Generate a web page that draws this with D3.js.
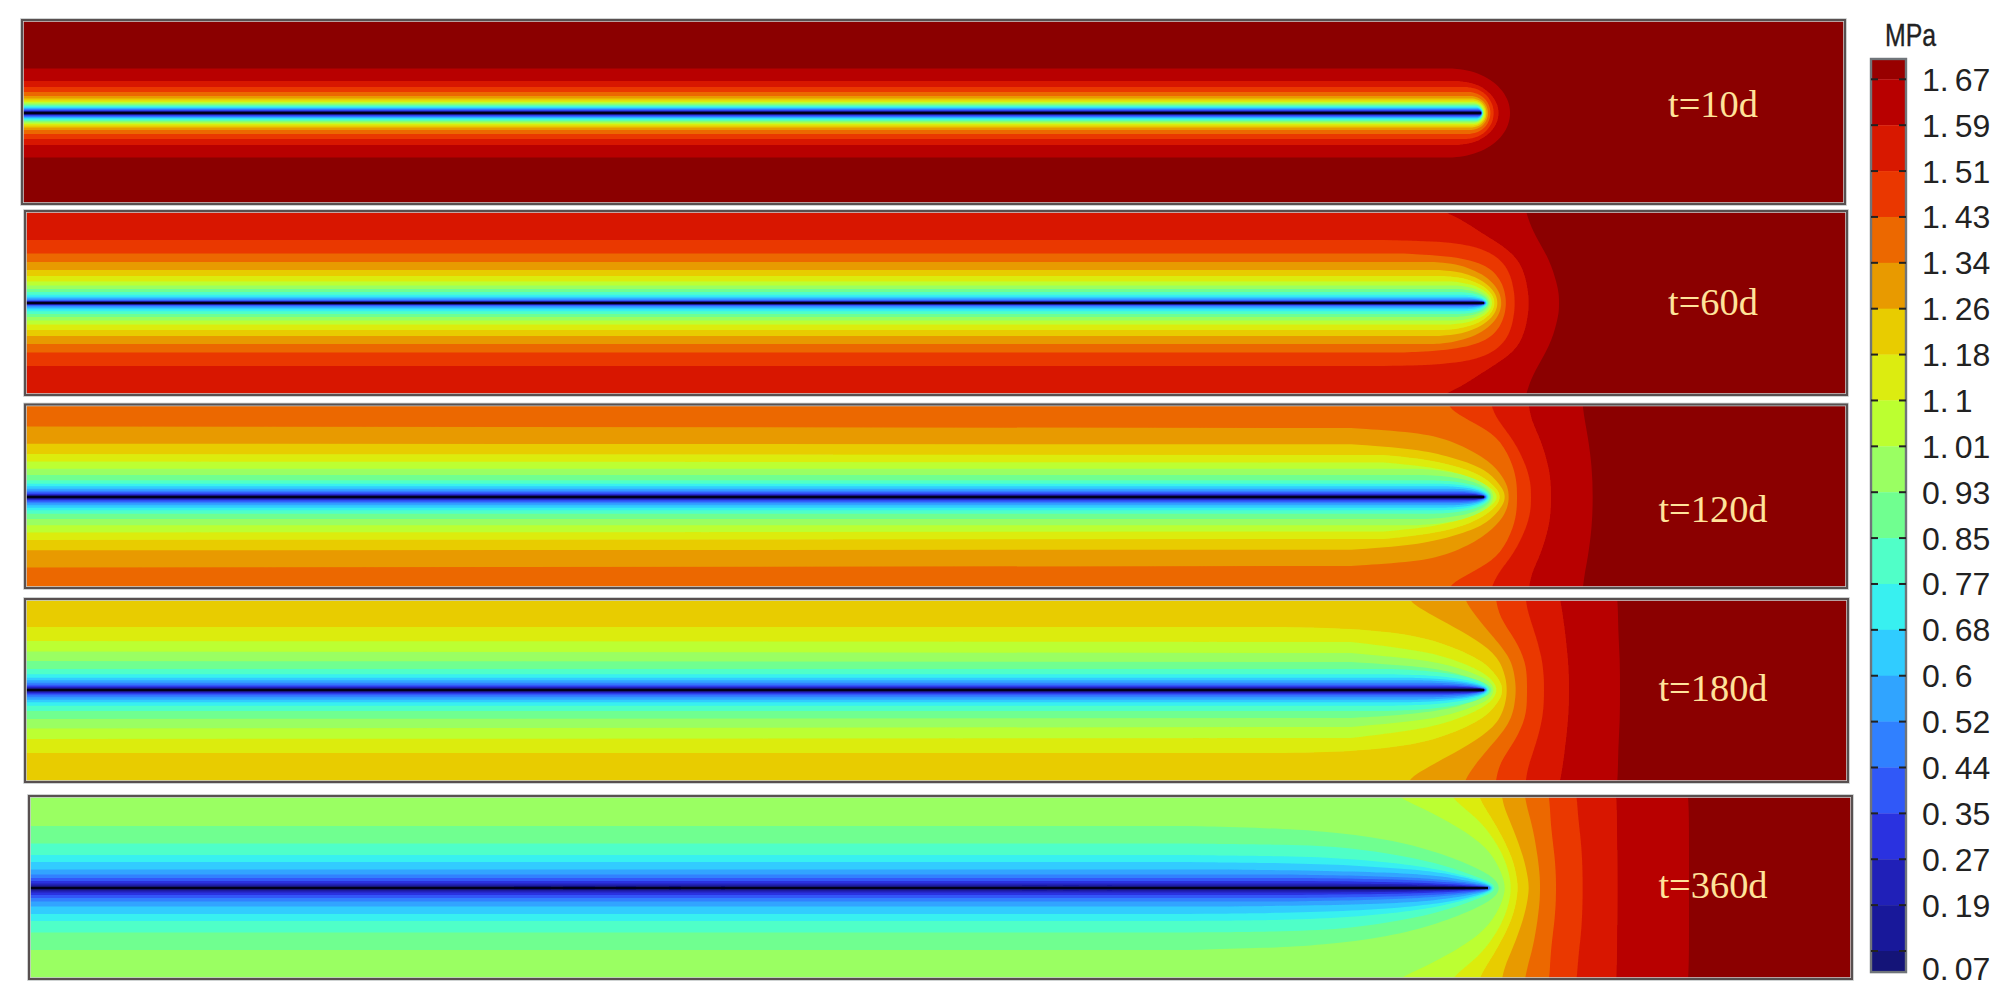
<!DOCTYPE html>
<html><head><meta charset="utf-8">
<script src="https://cdn.jsdelivr.net/npm/d3@7/dist/d3.min.js"></script>
<style>html,body{margin:0;padding:0;background:#fff;overflow:hidden}svg{display:block}</style>
</head><body><svg id="c" width="2011" height="1000"></svg>
<script>
// Colour of each pressure band, top of the colour bar to bottom
const bandColors = ["#8b0000","#b80000","#d81800","#ea3700","#ec6800","#e89a00","#e8cc00","#dcec10","#bcff30","#9aff62","#70ff90","#50ffc8","#38f0f0","#30ccff","#30a4ff","#3080ff","#3058f8","#2a32e0","#2020b8","#18189a","#141478"];
// Colour-bar labels: one per band boundary (last boundary unlabelled)
const tickLabels = ["1.67","1.59","1.51","1.43","1.34","1.26","1.18","1.1","1.01","0.93","0.85","0.77","0.68","0.6","0.52","0.44","0.35","0.27","0.19",""];
const minLabel = "0.07";
const unitLabel = "MPa";
const panelLabels = ["t=10d","t=60d","t=120d","t=180d","t=360d"];

// Contours, one row per band boundary, innermost last.
// A row is either [halfWidth, shoulderX, tipX] or a list of [x, halfWidth] points,
// x measured from the well tip, halfWidth from the well axis.
const contours10d = [
 [44.5,-29,29.7],[32,-23,18],[26,-14,13],[21,-12,9.7],[17,-10,7.3],[14.5,-9,5.7],[12.5,-8,4.5],[11,-7,3.5],[9.8,-7,2.7],[8.6,-6,2.2],[7.5,-6,1.8],[6.5,-5,1.5],[5.6,-5,1.3],[4.7,-4,1.1],[3.9,-4,.9],[3.2,-3,.7],[2.5,-3,.6],[1.9,-2,.4],[1.3,-2,.3],[.7,-1,.2]
];
const contours60d = [
 [[42,92],[44,85],[50,69],[66,43],[73,19],[75,8],[75,0]],
 [[-41,92],[-33,88],[-20,82],[-1,69],[26,53],[39,36],[44,14],[45,0]],
 [[-1459,63],[-100,63],[-45,62],[0,56],[24,38],[30,14],[31,0]],
 [[-1459,49.5],[-80,49.5],[-30,47],[5,38],[18,21],[21.5,8],[22,0]],
 [41,-50,18],[33,-45,14],[27,-40,11],[21.5,-35,8.5],[17.5,-30,6.5],[14,-28,5],[11,-25,4],[8.3,-22,3],[6.3,-20,2.5],[4.7,-18,2],[3.6,-15,1.5],[2.7,-12,1.2],[2.1,-10,.9],[1.6,-8,.7],[1.1,-6,.5],[.6,-4,.3]
];
const contours120d = [
 [[99,92],[100,80],[104,60],[108,30],[109,0]],
 [[45,92],[47,77],[57,57],[65,30],[67,12],[67,0]],
 [[7,92],[13,77],[30,57],[43,30],[47,12],[47,0]],
 [[-37,92],[-27,83],[-2,70],[17,57],[30,30],[33,12],[33,0]],
 [[-1459,70.5],[-133,69],[-67,65],[-33,57],[0,40],[17,24],[24,10],[25,0]],
 [[-1459,53.3],[-133,52.7],[-67,48],[-33,40],[0,29],[14,15],[20,6],[21,0]],
 [[-1459,43],[-100,42],[-50,37],[-10,26],[9,13],[15,5],[16,0]],
 [[-1459,35.5],[-100,34.5],[-50,30],[-15,21],[5,11],[12,4],[13,0]],
 [28.3,-70,10],[22,-60,8],[16.7,-50,6.5],[13.3,-45,5],[10.7,-40,4],[8.3,-35,3],[6.3,-30,2.5],[4.7,-25,2],[3.3,-20,1.5],[2.5,-15,1],[1.7,-10,.7],[1,-6,.4]
];
const contours180d = [
 [[134,92],[134,60],[136,30],[136,0]],
 [[76,92],[78,80],[80,67],[84,33],[85,12],[85,0]],
 [[42,92],[43,80],[50,60],[58,33],[60,12],[60,0]],
 [[12,92],[15,73],[32,50],[42,27],[43,10],[43,0]],
 [[-20,92],[-13,80],[3,60],[27,33],[31,12],[32,0]],
 [[-77,92],[-67,83],[-37,67],[-7,50],[15,33],[22,12],[23,0]],
 [[-1459,63],[-200,63],[-133,62],[-67,55],[-33,44],[0,29],[13,14],[18,5],[18,0]],
 [[-1459,49],[-133,48],[-67,40],[-33,32],[0,18],[11,7],[13,0]],
 [[-1459,38.5],[-133,37],[-67,31],[-33,25],[0,13],[8,6],[10,0]],
 [[-1459,29],[-133,28],[-67,24],[-30,18],[-3,9],[6,4],[8,0]],
 [21,-100,6.5],[15.7,-90,5],[12.3,-80,4],[9.7,-70,3.2],[7.3,-60,2.5],[5.3,-50,2],[3.7,-35,1.5],[2.7,-25,1.1],[1.8,-15,.7],[1,-8,.4]
];
const contours360d = [
 [[201,92],[201,40],[201,0]],
 [[129,92],[129,50],[130,0]],
 [[89,92],[90,70],[94,40],[95,0]],
 [[61,92],[62,80],[63,60],[67,30],[68,10],[68,0]],
 [[37,92],[39,80],[45,60],[50,30],[52,10],[52,0]],
 [[14,92],[16,80],[25,60],[36,30],[40,10],[41,0]],
 [[-9,92],[-5,83],[10,60],[25,30],[29,10],[30,0]],
 [[-37,92],[-28,83],[-5,65],[15,35],[22,12],[23,0]],
 [[-93,92],[-72,83],[-40,67],[-5,45],[10,24],[16,8],[17,0]],
 [[-1459,62],[-300,62],[-220,60],[-166,57],[-100,49],[-50,36],[-10,20],[8,9],[12,0]],
 [[-1459,44.5],[-300,44.5],[-200,43.5],[-138,41],[-72,30],[-38,21],[-5,9],[5,4],[7,0]],
 [[-1459,33],[-300,33],[-200,32],[-138,29.5],[-72,23],[-35,15.5],[-5,7],[3.5,3],[5,0]],
 [[-1459,26],[-300,26],[-200,25],[-138,23],[-72,18.5],[-35,13.5],[-5,6],[3,2],[4,0]],
 [[-1459,18.5],[-260,18.5],[-170,17.5],[-100,15.5],[-60,13],[-35,10],[-5,4.5],[2.2,1.8],[3,0]],
 [[-1459,13.5],[-200,13.5],[-130,12.5],[-72,10.5],[-35,7.5],[-5,3.5],[1.8,1.2],[2.2,0]],
 [[-1459,10],[-200,10],[-130,9.3],[-72,8],[-35,5.5],[-5,2.6],[1.7,0]],
 [[-1459,7],[-200,7],[-120,6.4],[-72,5.5],[-35,3.8],[-5,1.8],[1.3,0]],
 [[-1459,4.5],[-180,4.5],[-100,4],[-50,3],[-20,1.8],[-5,.9],[1,0]],
 [[-1459,2.7],[-120,2.6],[-60,2],[-25,1.2],[-5,.5],[.7,0]],
 [[-1459,1.2],[-60,1],[-25,.6],[.4,0]]
];
const panelContours = [contours10d,contours60d,contours120d,contours180d,contours360d];

// ---- layout (separate from the data) ----
const panelBoxes = [
 {L:22,R:1845,T:20,B:204,cy:113,lx:1713,ly:117},
 {L:25,R:1847,T:211,B:395,cy:303,lx:1713,ly:315},
 {L:25,R:1847,T:404.5,B:588,cy:497,lx:1713,ly:522},
 {L:25,R:1848,T:599,B:782,cy:690,lx:1713,ly:701},
 {L:29,R:1852,T:796,B:979,cy:888,lx:1713,ly:898}
];
const svg = d3.select("#c");
const defs = svg.append("defs");
defs.append("filter").attr("id","soft").append("feGaussianBlur").attr("stdDeviation",0.5);

function capPoints(r){
  const [h,xs,xe]=r, out=[[-1459,h]];
  [0,15,30,45,60,75,90].forEach(a=>{const t=a*Math.PI/180;out.push([xs+(xe-xs)*Math.sin(t),h*Math.cos(t)]);});
  out[out.length-1][1]=0;
  return out;
}
panelBoxes.forEach((b,i)=>{
  const x=d3.scaleLinear([-1459,b.R-b.L-1459],[b.L,b.R]);
  const y=d3.scaleLinear([0,92],[b.cy,b.cy-92]);
  const g=svg.append("g");
  const id="clip"+i;
  defs.append("clipPath").attr("id",id).append("rect").attr("x",b.L).attr("y",b.T).attr("width",b.R-b.L).attr("height",b.B-b.T);
  const rows=panelContours[i];
  const first=bandColors.length-1-rows.length;
  const inner=g.append("g").attr("clip-path",`url(#${id})`).attr("filter","url(#soft)");
  inner.append("rect").attr("x",b.L-2).attr("y",b.T-2).attr("width",b.R-b.L+4).attr("height",b.B-b.T+4).attr("fill",bandColors[first]);
  const line=d3.line().x(d=>x(d[0])).y(d=>y(d[1])).curve(d3.curveBasis);
  const left=x(-1459)-3;
  inner.selectAll("path.band").data(rows).join("path").attr("class","band")
    .attr("fill",(d,k)=>bandColors[first+k+1])
    .attr("d",r=>{
      let pts=typeof r[0]==="number"?capPoints(r):r.slice();
      let edge=pts[0][1];
      if(edge>=92){edge=110;pts=[[pts[0][0]-4,110],...pts];}
      const mirrored=pts.slice(0,-1).reverse().map(p=>[p[0],-p[1]]);
      if(pts[0][0]===-1459){
        const cur=[...pts.slice(1),...mirrored.slice(0,-1)];
        return `M${left},${y(edge)}L`+line(cur).slice(1)+`L${left},${y(-edge)}Z`;
      }
      return line([...pts,...mirrored])+`L${left},${y(-edge)}L${left},${y(edge)}Z`;
    });
  inner.append("line").attr("x1",x(-1459)).attr("x2",x(0)).attr("y1",y(0)).attr("y2",y(0)).attr("stroke","#04041c").attr("stroke-width",2.4);
  g.append("rect").attr("x",b.L).attr("y",b.T).attr("width",b.R-b.L).attr("height",b.B-b.T).attr("fill","none").attr("stroke","#c4c8c8").attr("stroke-width",3.6);
  g.append("rect").attr("x",b.L).attr("y",b.T).attr("width",b.R-b.L).attr("height",b.B-b.T).attr("fill","none").attr("stroke","#585050").attr("stroke-width",2);
  g.append("text").attr("x",b.lx).attr("y",b.ly).attr("text-anchor","middle")
    .attr("font-family","'Liberation Serif',serif").attr("font-size",38.4).attr("fill","#ffe39a").text(panelLabels[i]);
});

// colour bar, positioned through a scale of boundary index
const barX0=1871, barX1=1906;
const barY=d3.scaleLinear([0,19],[79.3,951]);
const edges=[-0.443,...d3.range(20),19.46];
const bar=svg.append("g");
bar.selectAll("rect.cell").data(bandColors).join("rect").attr("class","cell")
  .attr("x",barX0).attr("width",barX1-barX0)
  .attr("y",(d,i)=>barY(edges[i])).attr("height",(d,i)=>barY(edges[i+1])-barY(edges[i])+0.3)
  .attr("fill",(d,i)=>i===0?"#980000":d);
bar.append("rect").attr("x",barX0).attr("y",barY(edges[0])).attr("width",barX1-barX0).attr("height",barY(19.46)-barY(edges[0]))
  .attr("fill","none").attr("stroke","#70757a").attr("stroke-width",2.4);
const ticks=bar.selectAll("g.t").data(tickLabels).join("g").attr("class","t").attr("transform",(d,i)=>`translate(0,${barY(i)})`);
ticks.append("line").attr("x1",barX0).attr("x2",barX0+7).attr("stroke","#222").attr("stroke-width",2);
ticks.append("line").attr("x1",barX1-7).attr("x2",barX1).attr("stroke","#222").attr("stroke-width",2);
function label(sel,s){
  const p=s.split(".");
  sel.attr("x",1922).attr("dy","0.36em").attr("font-family","'Liberation Sans',sans-serif").attr("font-size",32).attr("fill","#222");
  sel.append("tspan").text(p[0]+".");
  sel.append("tspan").attr("dx",6).text(p[1]);
}
ticks.filter(d=>d).each(function(d){label(d3.select(this).append("text"),d);});
label(bar.append("text").attr("y",barY(19.4)-1),minLabel);
svg.append("text").attr("x",1885).attr("y",46).attr("font-family","'Liberation Sans',sans-serif").attr("font-size",32)
  .attr("textLength",51).attr("lengthAdjust","spacingAndGlyphs").attr("fill","#222").attr("stroke","#222").attr("stroke-width",0.4).text(unitLabel);
</script></body></html>
